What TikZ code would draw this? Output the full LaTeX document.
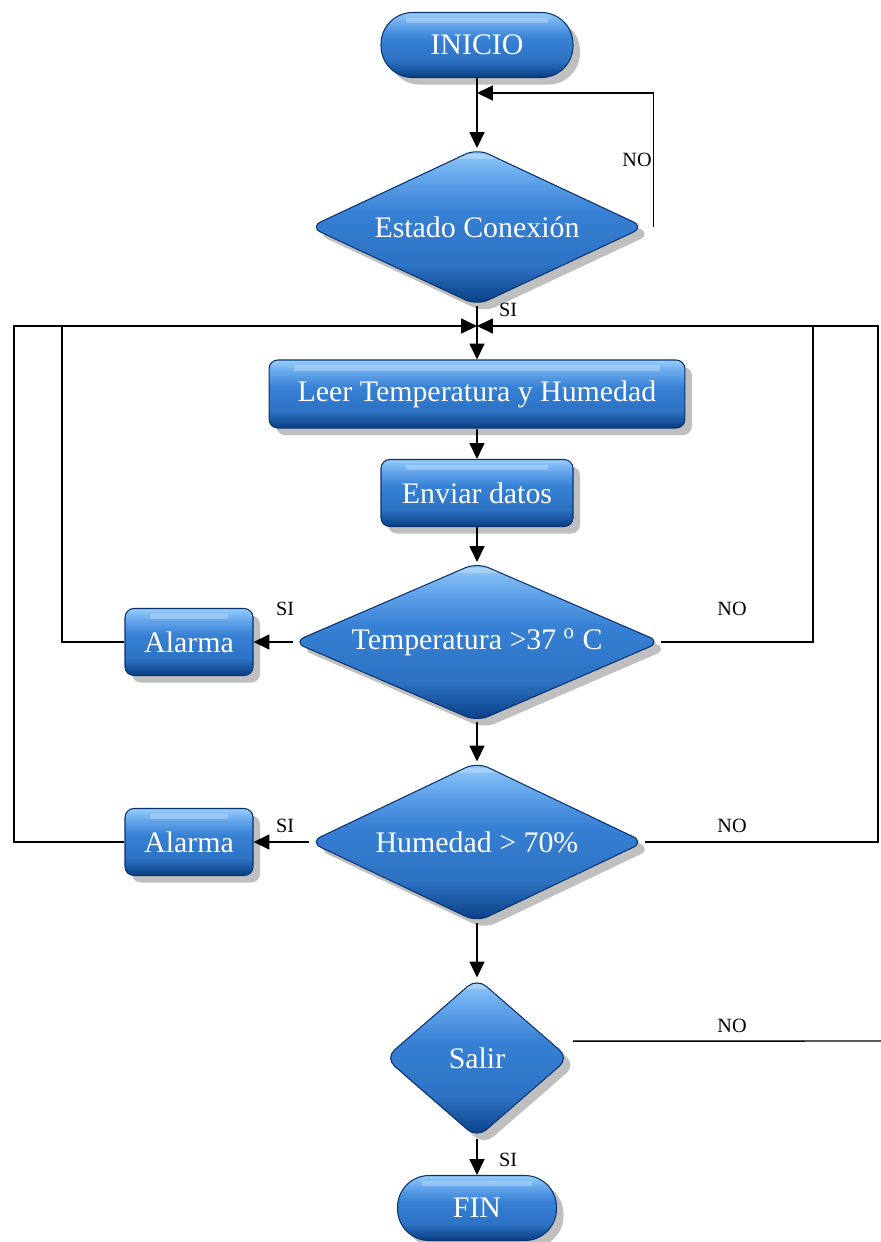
\documentclass[tikz,border=0pt]{standalone}
\usepackage{fontspec}
\setmainfont{Liberation Serif}
\usetikzlibrary{shapes.geometric, arrows.meta, shadows, positioning}

\definecolor{boxbot}{RGB}{8,62,130}
\definecolor{boxmid}{RGB}{55,128,212}
\definecolor{boxlite}{RGB}{100,165,235}
\definecolor{boxtop}{RGB}{150,205,250}
\definecolor{boxedge}{RGB}{10,50,110}

% brillo vertical de las cajas
\pgfdeclareverticalshading{glossblue}{100bp}{color(0bp)=(boxbot); color(25bp)=(boxbot); color(38bp)=(boxmid!80!boxbot); color(55bp)=(boxmid); color(66bp)=(boxlite); color(75bp)=(boxtop); color(100bp)=(boxtop)}

\begin{document}
\begin{tikzpicture}[x=0.02cm, y=-0.02cm,
    glossy/.style={shading=glossblue, draw=boxedge, line width=0.6pt, text=white,
      font=\fontsize{17}{20}\selectfont, inner sep=2pt,
      drop shadow={shadow xshift=4pt, shadow yshift=-4pt, fill=black!25, opacity=1},
      path picture={\fill[white, opacity=0.25, sharp corners]
        ([xshift=14pt, yshift=-3pt]path picture bounding box.north west) rectangle
        ([xshift=-14pt, yshift=-6pt]path picture bounding box.north east);}},
    proc/.style={glossy, rectangle, rounded corners=5pt},
    term/.style={glossy, rectangle, rounded corners=18pt},
    decision/.style={glossy, diamond, rounded corners=7pt, inner sep=0pt},
    line/.style={line width=0.8pt},
    arr/.style={line, -{Triangle[length=9pt, width=8.5pt]}},
    lbl/.style={font=\fontsize{11.5}{13}\selectfont}]

    \useasboundingbox (0,0) rectangle (881,1242);

    % Inicio y conexion
    \node[term, minimum width=3.84cm, minimum height=1.3cm] (start) at (477,45) {INICIO};
    \node[decision, aspect=2.13, minimum width=6.7cm, minimum height=3.14cm] (conn) at (477,227) {Estado Conexión};
    \coordinate (back) at (477,93);
    \coordinate (join) at (477,326);

    \draw[arr] (start.south) -- (conn.north);
    \draw[arr] ([xshift=5pt]conn.east) |- (back);
    \node[lbl] (noconn) at (637,160) {NO};
    \draw[line] (conn.south) -- (join);
    \node[lbl] (siconn) at (508,310) {SI};

    % Lectura y envio
    \node[proc, minimum width=8.32cm, minimum height=1.36cm] (read) at (477,394) {Leer Temperatura y Humedad};
    \node[proc, minimum width=3.84cm, minimum height=1.34cm] (send) at (477,493) {Enviar datos};
    \draw[arr] (join) -- (read.north);
    \draw[arr] (read.south) -- (send.north);

    % Temperatura
    \node[decision, aspect=2.3, minimum width=7.36cm, minimum height=3.18cm] (temp) at (477,642) {Temperatura >37 \textsuperscript{o} C};
    \node[proc, minimum width=2.56cm, minimum height=1.34cm] (alarm1) at (189,642) {Alarma};
    \draw[arr] (send.south) -- (temp.north);
    \draw[arr] (temp.west) -- (alarm1.east);
    \node[lbl] (sitemp) at (285,609) {SI};
    \node[lbl] (notemp) at (732,609) {NO};

    % Humedad
    \node[decision, aspect=2.1, minimum width=6.7cm, minimum height=3.2cm] (hum) at (477,842) {Humedad > 70\%};
    \node[proc, minimum width=2.56cm, minimum height=1.34cm] (alarm2) at (189,842) {Alarma};
    \draw[arr] (temp.south) -- (hum.north);
    \draw[arr] (hum.west) -- (alarm2.east);
    \node[lbl] (sihum) at (285,826) {SI};
    \node[lbl] (nohum) at (732,826) {NO};

    % Retornos al bucle
    \coordinate (lin) at (62,326);
    \coordinate (lout) at (14,326);
    \coordinate (rin) at (813,326);
    \coordinate (rout) at (878,326);
    \draw[arr] (alarm1.west) -| (lin) -- (join);
    \draw[line] (alarm2.west) -| (lout) -- (lin);
    \draw[arr] (temp.east) -| (rin) -- (join);
    \draw[line] (hum.east) -| (rout) -- (rin);

    % Salir y fin
    \node[decision, aspect=1.15, minimum width=3.68cm, minimum height=3.2cm] (quit) at (477,1058) {Salir};
    \node[term, minimum width=3.18cm, minimum height=1.3cm] (stop) at (477,1208) {FIN};
    \coordinate (exitno) at (881,1041);
    \draw[arr] (hum.south) -- (quit.north);
    \draw[line] ([xshift=2pt, yshift=9.6pt]quit.east) -- (exitno);
    \node[lbl] (noquit) at (732,1026) {NO};
    \draw[arr] (quit.south) -- (stop.north);
    \node[lbl] (siquit) at (508,1160) {SI};
\end{tikzpicture}
\end{document}
